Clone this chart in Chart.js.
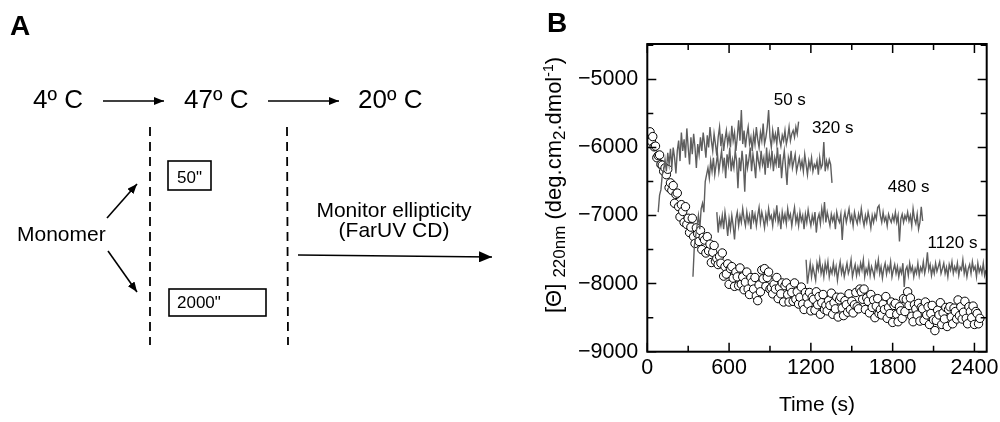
<!DOCTYPE html>
<html>
<head>
<meta charset="utf-8">
<script src="https://cdn.jsdelivr.net/npm/chart.js@4.4.0/dist/chart.umd.min.js"></script>
<style>
  html, body { margin: 0; padding: 0; background: #fff; }
  body { width: 1000px; height: 422px; position: relative; overflow: hidden; font-family: "Liberation Sans", Arial, sans-serif; }
  #chart { position: absolute; left: 0; top: 0; }
  #scheme { position: absolute; left: 0; top: 0; pointer-events: none; }
  #yTitle {
    position: absolute; left: 554px; top: 185px;
    transform: translate(-50%, -50%) rotate(-90deg);
    white-space: nowrap; font-size: 22px; line-height: 1; color: #000;
  }
  #yTitle .sub { position: relative; top: 4px; font-size: 17px; }
  #yTitle .sup { position: relative; top: -8px; font-size: 14px; }
</style>
</head>
<body>
<canvas id="chart" width="1000" height="422"></canvas>

<svg id="scheme" width="1000" height="422" xmlns="http://www.w3.org/2000/svg" font-family="Liberation Sans, Arial, sans-serif">
  <defs>
    <marker id="head" viewBox="0 0 10 8" markerWidth="10" markerHeight="8" refX="10" refY="4" orient="auto" markerUnits="userSpaceOnUse">
      <path d="M0,0 L10,4 L0,8 z" fill="#000"/>
    </marker>
    <marker id="headBig" viewBox="0 0 13 11" markerWidth="13" markerHeight="11" refX="13" refY="5.5" orient="auto" markerUnits="userSpaceOnUse">
      <path d="M0,0 L13,5.5 L0,11 z" fill="#000"/>
    </marker>
  </defs>
  <text x="10" y="35" font-size="28" font-weight="bold">A</text>
  <text x="547" y="32" font-size="28" font-weight="bold">B</text>

  <text x="33" y="108" font-size="26">4º C</text>
  <text x="184" y="108" font-size="26">47º C</text>
  <text x="358" y="108" font-size="26">20º C</text>
  <g stroke="#000" stroke-width="1.6">
    <line x1="103" y1="101" x2="164" y2="101" marker-end="url(#head)"/>
    <line x1="268" y1="101" x2="339" y2="101" marker-end="url(#head)"/>
    <line x1="107" y1="218" x2="137" y2="184" marker-end="url(#head)"/>
    <line x1="108" y1="251" x2="137" y2="292" marker-end="url(#head)"/>
    <line x1="298" y1="255" x2="492" y2="257" marker-end="url(#headBig)"/>
  </g>
  <g stroke="#000" stroke-width="1.8" stroke-dasharray="9 6">
    <line x1="150" y1="127" x2="150" y2="345"/>
    <line x1="287" y1="127" x2="288" y2="345"/>
  </g>
  <rect x="168" y="161" width="43" height="29" fill="none" stroke="#000" stroke-width="1.6"/>
  <rect x="169" y="289" width="97" height="27" fill="none" stroke="#000" stroke-width="1.6"/>
  <text x="177" y="183" font-size="17">50"</text>
  <text x="177" y="308" font-size="17">2000"</text>
  <text x="17" y="241" font-size="21">Monomer</text>
  <text x="394" y="217" font-size="21" text-anchor="middle">Monitor ellipticity</text>
  <text x="394" y="237" font-size="21" text-anchor="middle">(FarUV CD)</text>
</svg>

<div id="yTitle">[Θ] <span class="sub">220nm</span> (deg.cm<span class="sub">2</span>.dmol<span class="sup">-1</span>)</div>

<script>
// open circles: monomer kept at 47 C, read every 10 s from 20 s
const circleStart = 20, circleStep = 10;
const circleTheta = [
  -5770, -5910, -5840, -5990, -5980, -6150, -6120, -6110, -6250, -6260,
  -6350, -6300, -6400, -6320, -6590, -6520, -6630, -6560, -6820, -6690,
  -6670, -6870, -7020, -6840, -6940, -7100, -6870, -7130, -7040, -7250,
  -7170, -7040, -7310, -7410, -7180, -7270, -7380, -7220, -7500, -7320,
  -7360, -7550, -7310, -7520, -7420, -7690, -7540, -7440, -7670, -7630,
  -7720, -7600, -7700, -7550, -7890, -7750, -7860, -7710, -8010, -7780,
  -7750, -7920, -8040, -7830, -7900, -8030, -7770, -8010, -7900, -8090,
  -7980, -7830, -8080, -8160, -7910, -7980, -8080, -7910, -8180, -8250,
  -8020, -8120, -7800, -7930, -7780, -8040, -7910, -7830, -8080, -8060,
  -8150, -8010, -8080, -7910, -8220, -8060, -8150, -7990, -8270, -8030,
  -7990, -8160, -8270, -8060, -8130, -8260, -7990, -8230, -8120, -8300,
  -8200, -8050, -8300, -8380, -8130, -8200, -8300, -8130, -8400, -8200,
  -8230, -8390, -8120, -8310, -8190, -8450, -8280, -8160, -8380, -8320,
  -8400, -8250, -8320, -8140, -8450, -8280, -8370, -8200, -8490, -8240,
  -8200, -8360, -8470, -8250, -8310, -8420, -8150, -8380, -8260, -8430,
  -8310, -8130, -8340, -8370, -8080, -8120, -8230, -8080, -8380, -8210,
  -8260, -8430, -8160, -8350, -8240, -8500, -8330, -8220, -8440, -8380,
  -8460, -8300, -8380, -8190, -8510, -8350, -8440, -8270, -8570, -8320,
  -8290, -8450, -8560, -8340, -8400, -8510, -8220, -8410, -8230, -8120,
  -8320, -8210, -8480, -8560, -8310, -8370, -8460, -8290, -8550, -8350,
  -8370, -8540, -8270, -8460, -8340, -8600, -8440, -8320, -8530, -8690,
  -8540, -8390, -8460, -8280, -8600, -8430, -8520, -8350, -8630, -8380,
  -8340, -8490, -8590, -8360, -8410, -8520, -8240, -8470, -8340, -8520,
  -8420, -8260, -8510, -8590, -8340, -8410, -8500, -8330, -8600, -8410,
  -8440, -8590, -8510
];

// grey traces: shifted to 20 C after 50, 320, 480 and 1120 s, step 10 s
const traceStep = 10;
const trace50Start = 80;
const trace50 = [
  -6950, -6700, -6620, -6400, -6330, -6180, -6350, -6080, -6250, -6020,
  -6300, -6000, -6150, -6380, -6050, -5900, -6200, -5780, -6050, -5880,
  -6150, -5720, -6000, -6250, -5850, -6100, -5800, -6000, -6300, -5950,
  -6100, -5850, -6050, -5780, -5950, -6150, -5820, -6000, -5700, -5900,
  -6050, -5800, -5950, -6120, -5850, -5700, -5980, -5800, -6050, -5880,
  -5750, -5950, -5820, -6000, -5680, -5900, -5780, -6050, -5850, -5600,
  -5900, -5450, -5950, -5750, -6000, -5820, -5700, -5950, -5850, -6050,
  -5800, -5950, -5700, -5880, -6000, -5780, -5900, -5650, -5950, -5850,
  -5700, -5450, -5850, -6000, -5750, -5900, -5800, -5950, -5700, -5880,
  -5980, -5820, -5900, -5750, -5950, -5850, -5700, -5900, -5800, -5750,
  -5850, -5700, -5800, -5620
];
const trace320Start = 335;
const trace320 = [
  -7900, -7450, -7300, -7150, -7000, -7200, -6900, -6820, -6950, -6500,
  -6400, -6300, -6450, -6200, -6350, -6150, -6400, -6250, -6100, -6350,
  -6200, -6050, -6300, -6150, -6450, -6100, -6250, -6000, -6350, -6180,
  -6300, -6050, -6200, -6600, -6150, -6350, -6050, -6250, -6650, -6100,
  -6300, -6180, -6000, -6350, -6100, -6250, -6450, -6050, -6200, -6300,
  -6050, -6250, -6150, -6400, -6000, -6300, -6100, -6250, -6050, -6350,
  -6150, -6250, -6000, -6300, -6100, -6450, -6200, -6050, -6300, -6550,
  -6150, -6250, -6050, -6300, -6200, -6100, -6350, -6250, -6150, -6300,
  -6200, -6350, -6100, -6250, -6400, -6200, -6300, -6150, -6350, -6250,
  -6300, -6200, -6400, -6150, -6300, -6250, -5920, -6350, -6200, -6300,
  -6180, -6250, -6520
];
const trace480Start = 510;
const trace480 = [
  -6950, -7250, -7050, -7150, -7000, -7200, -6950, -7100, -7300, -7050,
  -7200, -7000, -7150, -7350, -7050, -6950, -7150, -7000, -7100, -6900,
  -7050, -7150, -6950, -7100, -7000, -7200, -6920, -7080, -6980, -7150,
  -7000, -6880, -7100, -6950, -7050, -7180, -6980, -7100, -6900, -7050,
  -7000, -7150, -6950, -7050, -6850, -7100, -7000, -7200, -6950, -7080,
  -6980, -7120, -6900, -7050, -6980, -7150, -7000, -6880, -7100, -7000,
  -7150, -6950, -7080, -7000, -7200, -6980, -7100, -6920, -7050, -7150,
  -7000, -7100, -6950, -7250, -7050, -6980, -7120, -6900, -7050, -6800,
  -7100, -6950, -7050, -7150, -6980, -7080, -7000, -7200, -6950, -7050,
  -7100, -6980, -7360, -7050, -6950, -7100, -7000, -6900, -7080, -7000,
  -7150, -6950, -7050, -7120, -6980, -7080, -6900, -7050, -7150, -7000,
  -7100, -6950, -7050, -7180, -7000, -7100, -6980, -7050, -6880, -6850,
  -7000, -7100, -6950, -7080, -7020, -7150, -6980, -7050, -7100, -7000,
  -7080, -6950, -7100, -7000, -7380, -7050, -6980, -7100, -7000, -7060,
  -6950, -7080, -7000, -7150, -6900, -7050, -7120, -6980, -7200, -7100,
  -6870, -7080
];
const trace1120Start = 1165;
const trace1120 = [
  -7650, -8000, -7850, -7700, -7900, -7750, -7850, -7950, -7700, -7800,
  -7650, -7850, -7750, -7900, -7700, -7820, -7680, -7900, -7780, -7850,
  -7700, -7850, -7750, -7950, -7800, -7680, -7850, -7750, -7900, -7800,
  -7700, -7850, -7780, -7650, -7900, -7800, -7720, -7880, -7760, -7850,
  -7700, -7800, -7650, -7900, -7780, -7850, -7700, -7880, -7750, -7820,
  -7900, -7700, -7800, -7650, -7850, -7750, -7920, -7780, -7700, -7860,
  -7750, -7820, -7680, -7900, -7800, -7720, -7850, -7750, -7900, -7780,
  -7850, -7700, -8050, -7800, -7750, -7880, -7700, -7820, -7750, -7900,
  -7780, -7850, -7700, -7880, -7760, -7820, -7680, -7850, -7750, -7540,
  -7800, -7720, -7880, -7760, -7850, -7700, -7820, -7750, -7680, -7850,
  -7780, -7700, -7850, -7760, -7900, -7720, -7800, -7680, -7850, -7750,
  -7820, -7700, -7880, -7760, -7800, -7650, -7850, -7750, -7900, -7780,
  -7720, -7850, -7680, -7800, -7750, -7900, -7700, -7830, -7760, -7850,
  -7700, -7880, -7800
];
const traceNames = ['50 s', '320 s', '480 s', '1120 s'];

// labelled ticks; an unlabelled tick sits halfway between them
const xTicks = [0, 600, 1200, 1800, 2400];
const yTicks = [-9000, -8000, -7000, -6000, -5000];
const xMajorStep = 600, yMajorStep = 1000;

const fontFamily = '"Liberation Sans", Arial, sans-serif';
const traceGray = '#5e5e5e';

function toPoints(start, step, vals) {
  return vals.map((v, i) => ({ x: start + i * step, y: v }));
}

function traceSet(name, start, vals) {
  return {
    label: name,
    type: 'line',
    data: toPoints(start, traceStep, vals),
    borderColor: traceGray,
    borderWidth: 1.4,
    pointRadius: 0,
    fill: false,
    tension: 0
  };
}

// inward ticks on all four sides, the frame and the trace labels
const frameTicks = {
  id: 'frameTicks',
  afterDatasetsDraw(chart) {
    const { ctx, chartArea: a, scales: { x, y } } = chart;
    ctx.save();
    ctx.strokeStyle = '#000';
    ctx.lineWidth = 1.5;
    ctx.beginPath();
    x.ticks.forEach(t => {
      [[t.value, 9], [t.value + xMajorStep / 2, 6]].forEach(([v, len]) => {
        if (v > x.max) return;
        const px = x.getPixelForValue(v);
        ctx.moveTo(px, a.bottom); ctx.lineTo(px, a.bottom - len);
        ctx.moveTo(px, a.top); ctx.lineTo(px, a.top + len);
      });
    });
    y.ticks.forEach(t => {
      [[t.value, 9], [t.value + yMajorStep / 2, 6]].forEach(([v, len]) => {
        if (v > y.max) return;
        const py = y.getPixelForValue(v);
        ctx.moveTo(a.left, py); ctx.lineTo(a.left + len, py);
        ctx.moveTo(a.right, py); ctx.lineTo(a.right - len, py);
      });
    });
    ctx.stroke();
    ctx.lineWidth = 2;
    ctx.strokeRect(a.left, a.top, a.right - a.left, a.bottom - a.top);

    // label anchors in data units
    const anchors = [[1045, -5305], [1360, -5716], [1917, -6582], [2239, -7404]];
    ctx.fillStyle = '#000';
    ctx.font = '17px ' + fontFamily;
    ctx.textAlign = 'center';
    ctx.textBaseline = 'middle';
    traceNames.forEach((name, i) => {
      ctx.fillText(name, x.getPixelForValue(anchors[i][0]), y.getPixelForValue(anchors[i][1]));
    });
    ctx.restore();
  }
};

const ctx = document.getElementById('chart').getContext('2d');
new Chart(ctx, {
  type: 'scatter',
  data: {
    datasets: [
      traceSet(traceNames[0], trace50Start, trace50),
      traceSet(traceNames[1], trace320Start, trace320),
      traceSet(traceNames[2], trace480Start, trace480),
      traceSet(traceNames[3], trace1120Start, trace1120),
      {
        label: 'monomer',
        data: toPoints(circleStart, circleStep, circleTheta),
        showLine: false,
        pointRadius: 4.2,
        pointBackgroundColor: '#fff',
        pointBorderColor: '#000',
        pointBorderWidth: 1
      }
    ]
  },
  options: {
    responsive: false,
    animation: false,
    devicePixelRatio: 1,
    layout: { padding: { left: 567.3, right: 13.3, top: 44, bottom: 4.3 } },
    plugins: { legend: { display: false }, tooltip: { enabled: false } },
    scales: {
      x: {
        type: 'linear',
        min: 0,
        max: 2490,
        border: { display: false },
        grid: { display: false, drawTicks: false },
        afterBuildTicks: s => { s.ticks = xTicks.map(v => ({ value: v })); },
        ticks: {
          autoSkip: false,
          maxRotation: 0,
          padding: 3,
          color: '#000',
          font: { family: fontFamily, size: 21.5 },
          callback: v => String(v)
        },
        title: {
          display: true,
          text: 'Time (s)',
          color: '#000',
          font: { family: fontFamily, size: 21 },
          padding: { top: 0, bottom: 0 }
        },
        afterFit: s => { s.height = 66; s.paddingLeft = 0; s.paddingRight = 0; }
      },
      y: {
        type: 'linear',
        min: -9000,
        max: -4480,
        border: { display: false },
        grid: { display: false, drawTicks: false },
        afterBuildTicks: s => { s.ticks = yTicks.map(v => ({ value: v })); },
        ticks: {
          autoSkip: false,
          padding: 9,
          color: '#000',
          font: { family: fontFamily, size: 21.5 },
          callback: v => '\u2212' + Math.abs(v)
        },
        afterFit: s => { s.width = 80; s.paddingTop = 0; s.paddingBottom = 0; }
      }
    }
  },
  plugins: [frameTicks]
});
</script>
</body>
</html>
